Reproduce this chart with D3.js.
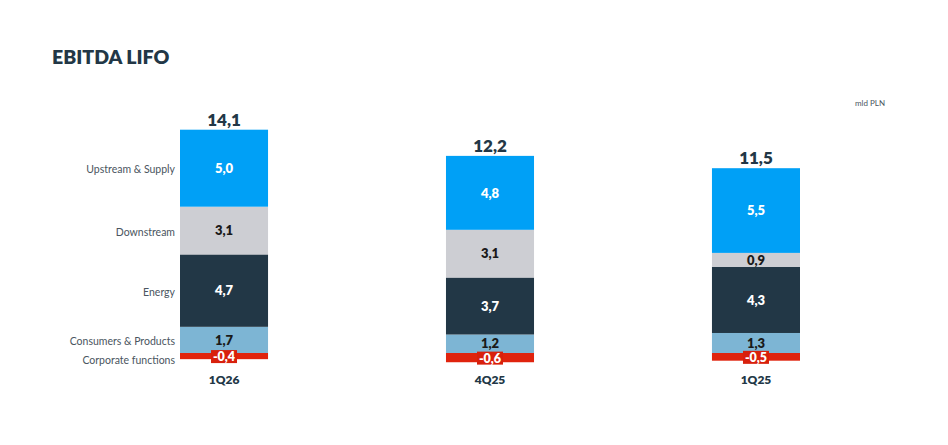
<!DOCTYPE html>
<html>
  <head>
    <meta charset="utf-8">
    <title>EBITDA LIFO</title>
    <script src="https://cdn.jsdelivr.net/npm/d3@7"></script>
    <style>
      body { margin: 0; background: #fff; }
      text { font-family: Lato, "Open Sans", sans-serif; }
    </style>
  </head>
  <body>
    <script>
      // data
      var periods = ["1Q26", "4Q25", "1Q25"];
      var segments = ["Upstream & Supply", "Downstream", "Energy", "Consumers & Products", "Corporate functions"];
      var upstream = [5.0, 4.8, 5.5];
      var downstream = [3.1, 3.1, 0.9];
      var energy = [4.7, 3.7, 4.3];
      var consumers = [1.7, 1.2, 1.3];
      var corporate = [-0.4, -0.6, -0.5];
      var totals = [14.1, 12.2, 11.5];

      var series = [upstream, downstream, energy, consumers, corporate];
      var colors = ["#00a0f6", "#cdced3", "#223746", "#7db5d4", "#e0230d"];
      var textColors = ["#fff", "#1a1a1a", "#fff", "#1a1a1a", "#fff"];

      var w = 948, h = 445;
      var svg = d3.select("body").append("svg").attr("width", w).attr("height", h);

      var x = d3.scaleBand().domain(periods).range([180, 800]).paddingInner(0.669).paddingOuter(0);
      var y = d3.scaleLinear().domain([-1, 15]).range([353 + 15.4, 353 - 15 * 15.4]);
      var fmt = function(v) { return d3.format(".1f")(v).replace(".", ",").replace("−", "-"); };

      // stacked rects: positives upward from zero (consumers first), negatives below zero
      var rects = [];
      periods.forEach(function(p, i) {
        var top = 0;
        for (var s = series.length - 1; s >= 0; s--) {
          var v = series[s][i];
          if (v >= 0) {
            rects.push({ p: p, s: s, v: v, y0: top, y1: top + v });
            top += v;
          } else {
            rects.push({ p: p, s: s, v: v, y0: v, y1: 0 });
          }
        }
      });

      svg.append("text").attr("x", 52).attr("y", 64)
        .attr("font-size", 19.5).attr("font-weight", 800).attr("fill", "#223746")
        .text("EBITDA LIFO");

      svg.append("text").attr("x", 885).attr("y", 106).attr("text-anchor", "end")
        .attr("font-size", 8).attr("fill", "#4a5560").text("mld PLN");

      svg.selectAll("rect.seg").data(rects).enter().append("rect")
        .attr("class", "seg")
        .attr("x", function(d) { return x(d.p); })
        .attr("width", x.bandwidth())
        .attr("y", function(d) { return y(d.y1); })
        .attr("height", function(d) { return y(d.y0) - y(d.y1); })
        .attr("fill", function(d) { return colors[d.s]; });

      // value labels
      var lab = svg.selectAll("g.lab").data(rects).enter().append("g").attr("class", "lab")
        .attr("transform", function(d) {
          var cy = y((d.y0 + d.y1) / 2) + (d.v < 0 ? 0.5 : 0);
          return "translate(" + (x(d.p) + x.bandwidth() / 2) + "," + cy + ")";
        });
      lab.filter(function(d) { return d.v < 0; }).append("rect")
        .attr("x", -13).attr("y", -6.5).attr("width", 26).attr("height", 13)
        .attr("fill", "#d8200c");
      lab.append("text")
        .attr("text-anchor", "middle").attr("dy", "0.36em")
        .attr("font-size", function(d) { return d.v < 0 ? 12.5 : 13; })
        .attr("font-weight", 800)
        .attr("fill", function(d) { return textColors[d.s]; })
        .text(function(d) { return fmt(d.v); });

      // totals
      svg.selectAll("text.total").data(periods).enter().append("text")
        .attr("class", "total")
        .attr("x", function(p) { return x(p) + x.bandwidth() / 2; })
        .attr("y", function(p, i) {
          var top = d3.sum(series, function(s) { return Math.max(0, s[i]); });
          return y(top) - 4;
        })
        .attr("text-anchor", "middle").attr("font-size", 17).attr("font-weight", 800)
        .attr("fill", "#223746")
        .text(function(p, i) { return fmt(totals[i]); });

      // x axis labels
      var xAxis = svg.append("g").attr("transform", "translate(0," + y(-1.0) + ")")
        .call(d3.axisBottom(x).tickSize(0).tickPadding(7));
      xAxis.select(".domain").remove();
      xAxis.selectAll("text").attr("font-size", 12).attr("font-weight", 800)
        .attr("fill", "#223746").style("font-family", "Lato, sans-serif");

      // segment names next to the first bar
      var first = rects.filter(function(d) { return d.p === periods[0]; });
      svg.selectAll("text.cat").data(first).enter().append("text")
        .attr("class", "cat")
        .attr("x", 175).attr("text-anchor", "end")
        .attr("y", function(d) { return y((d.y0 + d.y1) / 2) + (d.v < 0 ? 4 : 1.5); })
        .attr("dy", "0.35em")
        .attr("font-size", 10.5).attr("fill", "#4a5560")
        .text(function(d) { return segments[d.s]; });
    </script>
  </body>
</html>
